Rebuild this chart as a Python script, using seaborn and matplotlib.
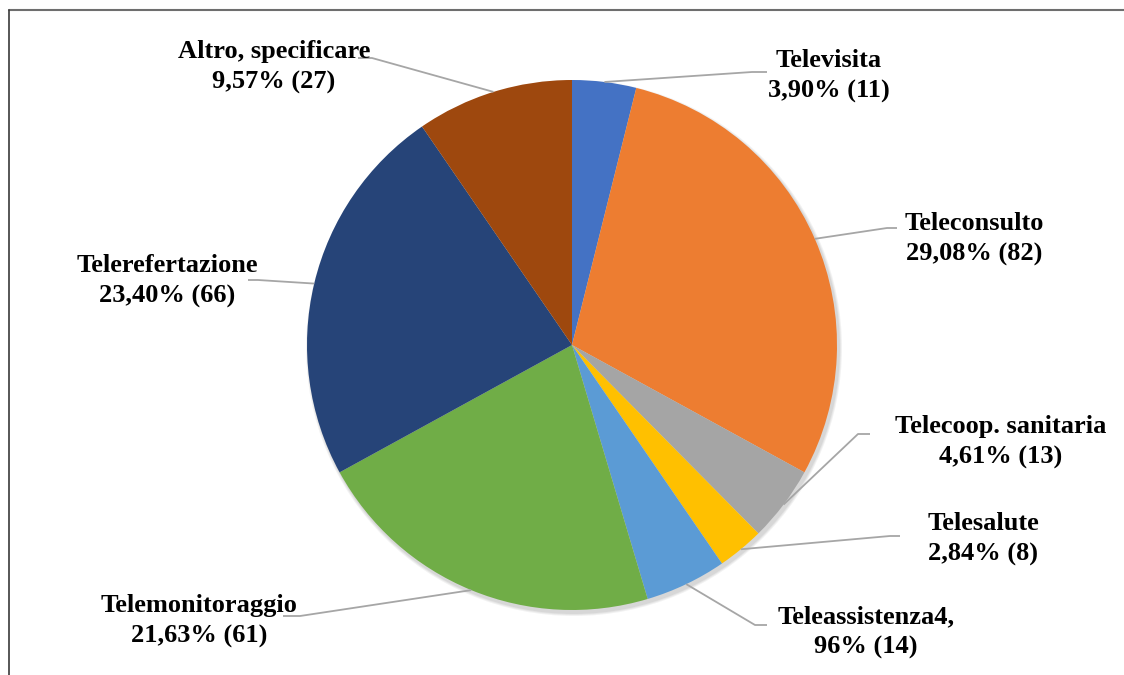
import numpy as np
import matplotlib.pyplot as plt
import seaborn as sns
from matplotlib.patches import Circle

categories = ['Televisita', 'Teleconsulto', 'Telecoop. sanitaria', 'Telesalute',
              'Teleassistenza', 'Telemonitoraggio', 'Telerefertazione', 'Altro, specificare']
counts = [11, 82, 13, 8, 14, 61, 66, 27]
label_texts = ['Televisita\n3,90% (11)',
               'Teleconsulto\n29,08% (82)',
               'Telecoop. sanitaria\n4,61% (13)',
               'Telesalute\n2,84% (8)',
               'Teleassistenza4,\n96% (14)',
               'Telemonitoraggio\n21,63% (61)',
               'Telerefertazione\n23,40% (66)',
               'Altro, specificare\n9,57% (27)']

colors = sns.color_palette(['#4472C4', '#ED7D31', '#A5A5A5', '#FFC000',
                            '#5B9BD5', '#70AD47', '#264478', '#9E480E'])

W, H = 1124, 675
# layout in pixel coords (y from top): text centre, elbow, end of leader
text_pos = [(829, 76), (974, 239), (1001, 442), (983, 539),
            (866, 632), (199, 621), (167, 281), (274, 67)]
elbows = [(752, 72), (887, 228), (858, 434), (890, 536),
          (755, 625), (300, 616), (258, 280), (372, 58)]
ends = [(767, 72), (897, 228), (870, 434), (900, 536),
        (767, 625), (283, 616), (248, 280), (358, 58)]

cx, cy, R = 572, H - 345, 265

sns.set_theme(style='white')
plt.rcParams['font.family'] = ['Liberation Serif', 'DejaVu Serif']

fig = plt.figure(figsize=(W / 100, H / 100), dpi=100)
ax = fig.add_axes([0, 0, 1, 1])

# soft shadow behind the pie
for k, a in enumerate([0.05, 0.05, 0.06]):
    ax.add_patch(Circle((cx + 2, cy - 3), R + 3 - k, color='black', alpha=a, lw=0, zorder=1))

wedges, _ = ax.pie(counts, colors=colors, startangle=90, counterclock=False,
                   center=(cx, cy), radius=R, frame=True,
                   wedgeprops=dict(linewidth=0.5, edgecolor='none'))
for w in wedges:
    w.set_zorder(2)
ax.set_xlim(0, W)
ax.set_ylim(0, H)
ax.set_aspect('equal')
ax.axis('off')

for w, txt, tp, el, en in zip(wedges, label_texts, text_pos, elbows, ends):
    ang = np.deg2rad((w.theta1 + w.theta2) / 2)
    sx, sy = cx + R * np.cos(ang), cy + R * np.sin(ang)
    ax.plot([sx, el[0], en[0]], [sy, H - el[1], H - en[1]], color='#A6A6A6', lw=1.3, zorder=3,
            solid_capstyle='butt')
    ax.text(tp[0], H - tp[1], txt, ha='center', va='center', fontsize=19,
            fontweight='bold', color='black', linespacing=1.38, zorder=4)

# chart border (cut at right and bottom)
ax.plot([8.5, W], [H - 9.5, H - 9.5], color='#6E6E6E', lw=1.5, zorder=5)
ax.plot([8.5, 8.5], [0, H - 9.5], color='#3A3A3A', lw=1.2, zorder=5)

fig.savefig('out.png', dpi=100)
